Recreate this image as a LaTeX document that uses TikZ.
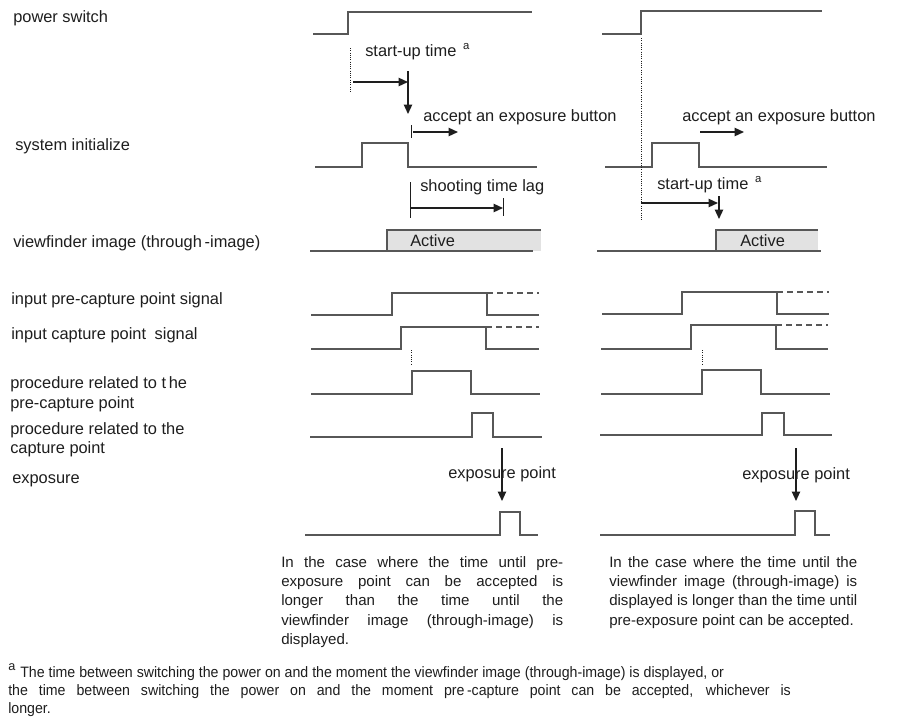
\documentclass[tikz,border=0pt]{standalone}
\usepackage{fontspec}
\setmainfont{Liberation Sans}
\newfontfamily\notefont{Liberation Sans}[FakeStretch=0.94]
\usetikzlibrary{arrows.meta}
\definecolor{wave}{HTML}{575757}
\definecolor{ink}{HTML}{1E1E1E}
\definecolor{activefill}{HTML}{E2E2E2}
\newcommand{\supa}{\hspace{5pt}{\fontsize{8.5}{9}\selectfont\raisebox{5pt}{a}}}
\newcommand{\jline}[2]{\makebox[#1][s]{#2}}
\begin{document}
\begin{tikzpicture}[x=0.75pt,y=-0.75pt,
  wave/.style={draw=wave,line width=1.1pt,line join=miter},
  ghost/.style={draw=wave,line width=1.1pt,dash pattern=on 4.5pt off 3pt},
  guide/.style={draw=ink,line width=0.7pt,densely dotted},
  tick/.style={draw=ink,line width=0.7pt},
  arr/.style={draw=ink,line width=1.1pt,-{Triangle[length=7pt,width=6.2pt]}},
  lbl/.style={anchor=base west,inner sep=0pt,text=ink,font=\fontsize{12.3}{14}\selectfont},
  para/.style={anchor=base west,inner sep=0pt,text=ink,font=\fontsize{11.3}{14.5}\selectfont},
  fnote/.style={anchor=base west,inner sep=0pt,text=ink,font=\notefont\fontsize{11.3}{13.5}\selectfont}]

\fill[white] (0,0) rectangle (897,722);
\useasboundingbox (0,0) rectangle (897,722);

% ---------- row labels ----------
\node[lbl] (lpow) at (13,22) {power switch};
\node[lbl] (lsys) at (15,150) {system initialize};
\node[lbl] (lvf)  at (13,247) {viewfinder image (through\,-image)};
\node[lbl] (lpre) at (11,304) {input pre-capture point signal};
\node[lbl] (lcap) at (11,339) {input capture point\hspace{3pt} signal};
\node[lbl] (lpp1) at (10,388) {procedure related to t\,he};
\node[lbl] (lpp2) at (10,408) {pre-capture point};
\node[lbl] (lpc1) at (10,434) {procedure related to the};
\node[lbl] (lpc2) at (10,453) {capture point};
\node[lbl] (lexp) at (12,483) {exposure};

% ---------- left case: waveforms ----------
\draw[wave] (313,34) -- (348,34) -- (348,12) -- (532,12);
\draw[wave] (315,167) -- (362,167) -- (362,143) -- (408,143) -- (408,167) -- (537,167);
\fill[activefill] (387,230) rectangle (541,251);
\draw[wave] (310,251) -- (533,251);
\draw[wave] (387,251) -- (387,230) -- (541,230);
\draw[wave] (311,315) -- (392,315) -- (392,293) -- (487,293) -- (487,315) -- (539,315);
\draw[ghost] (487,293) -- (539,293);
\draw[wave] (311,349) -- (401,349) -- (401,327) -- (486,327) -- (486,349) -- (539,349);
\draw[ghost] (486,327) -- (539,327);
\draw[wave] (311,394) -- (412,394) -- (412,371) -- (471,371) -- (471,394) -- (540,394);
\draw[wave] (310,437) -- (472,437) -- (472,413) -- (493,413) -- (493,437) -- (542,437);
\draw[wave] (305,535) -- (500,535) -- (500,512) -- (520,512) -- (520,535) -- (538,535);

% ---------- left case: markers and arrows ----------
\coordinate (Lon)   at (350,48);
\coordinate (Lonb)  at (350,92);
\draw[guide] (Lon) -- (Lonb);
\node[lbl] (Lsu) at (365,56) {start-up time\supa};
\coordinate (Lsua)  at (353,82);
\coordinate (Lsub)  at (408,82);
\draw[arr] (Lsua) -- (Lsub);
\coordinate (Lrdy)  at (408,71);
\coordinate (Lrdyb) at (408,114);
\draw[arr] (Lrdy) -- (Lrdyb);
\node[lbl] (Lacc) at (423,121) {accept an exposure button};
\coordinate (Lt1a) at (411,125);
\coordinate (Lt1b) at (411,138);
\draw[tick] (Lt1a) -- (Lt1b);
\coordinate (Lacca) at (413,132);
\coordinate (Laccb) at (458,132);
\draw[arr] (Lacca) -- (Laccb);
\node[lbl] (Lstl) at (420,191) {shooting time lag};
\coordinate (Lt2a) at (410,182);
\coordinate (Lt2b) at (410,218);
\draw[tick] (Lt2a) -- (Lt2b);
\coordinate (Lt3a) at (503,198);
\coordinate (Lt3b) at (503,216);
\draw[tick] (Lt3a) -- (Lt3b);
\coordinate (Lstla) at (410,208);
\draw[arr] (Lstla) -- (Lt3a |- Lstla);
\node[lbl] (Lact) at (410,246) {Active};
\coordinate (Lcpa) at (411,350);
\coordinate (Lcpb) at (411,365);
\draw[guide] (Lcpa) -- (Lcpb);
\coordinate (Lexa) at (502,448);
\coordinate (Lexb) at (502,501);
\draw[arr,line width=0.9pt] (Lexa) -- (Lexb);
\node[lbl] (Lexp) at (448,478) {exposure point};

% ---------- right case: waveforms ----------
\draw[wave] (602,34) -- (641,34) -- (641,11) -- (822,11);
\draw[wave] (605,167) -- (652,167) -- (652,143) -- (699,143) -- (699,167) -- (827,167);
\fill[activefill] (716,230) rectangle (818,251);
\draw[wave] (597,251) -- (821,251);
\draw[wave] (716,251) -- (716,230) -- (818,230);
\draw[wave] (602,314) -- (682,314) -- (682,292) -- (777,292) -- (777,314) -- (829,314);
\draw[ghost] (777,292) -- (829,292);
\draw[wave] (601,349) -- (691,349) -- (691,325) -- (776,325) -- (776,349) -- (828,349);
\draw[ghost] (776,325) -- (828,325);
\draw[wave] (601,394) -- (702,394) -- (702,370) -- (761,370) -- (761,394) -- (830,394);
\draw[wave] (600,435) -- (762,435) -- (762,413) -- (784,413) -- (784,435) -- (832,435);
\draw[wave] (600,535) -- (795,535) -- (795,511) -- (815,511) -- (815,535) -- (830,535);

% ---------- right case: markers and arrows ----------
\coordinate (Ron)  at (641,38);
\coordinate (Ronb) at (641,220);
\draw[guide] (Ron) -- (Ronb);
\node[lbl] (Racc) at (682,121) {accept an exposure button};
\coordinate (Racca) at (700,132);
\coordinate (Raccb) at (744,132);
\draw[arr] (Racca) -- (Raccb);
\node[lbl] (Rsu) at (657,189) {start-up time\supa};
\coordinate (Rsua) at (641,203);
\coordinate (Rsub) at (718,203);
\draw[arr] (Rsua) -- (Rsub);
\coordinate (Rrdy)  at (719,196);
\coordinate (Rrdyb) at (719,219);
\draw[arr] (Rrdy) -- (Rrdyb);
\node[lbl] (Ract) at (740,246) {Active};
\coordinate (Rcpa) at (702,350);
\coordinate (Rcpb) at (702,365);
\draw[guide] (Rcpa) -- (Rcpb);
\coordinate (Rexa) at (796,448);
\coordinate (Rexb) at (796,501);
\draw[arr,line width=0.9pt] (Rexa) -- (Rexb);
\node[lbl] (Rexp) at (742,479) {exposure point};

% ---------- case descriptions ----------
\node[para] (Lcase) at (281,567) {\parbox[t]{211.5pt}{\setlength{\baselineskip}{14.5pt}%
  \jline{211.5pt}{In the case where the time until pre-}\\
  \jline{211.5pt}{exposure point can be accepted is}\\
  \jline{211.5pt}{longer than the time until the}\\
  \jline{211.5pt}{viewfinder image (through-image) is}\\
  displayed.}};
\node[para] (Rcase) at (609,567) {\parbox[t]{186pt}{\setlength{\baselineskip}{14.5pt}%
  \jline{186pt}{In the case where the time until the}\\
  \jline{186pt}{viewfinder image (through-image) is}\\
  \jline{186pt}{displayed is longer than the time until}\\
  pre-exposure point can be accepted.}};

% ---------- footnote ----------
\node[anchor=base west,inner sep=0pt,text=ink,font=\fontsize{9.5}{10}\selectfont] (fa) at (8,670) {a};
\node[fnote] (fn) at (20,677) {\parbox[t]{640pt}{\setlength{\baselineskip}{13.5pt}%
  The time between switching the power on and the moment the viewfinder image (through-image) is displayed, or\\
  \hspace*{-9pt}\jline{587pt}{the time between switching the power on and the moment pre\,-capture point can be accepted, whichever is}\\
  \hspace*{-9pt}longer.}};

\end{tikzpicture}
\end{document}
